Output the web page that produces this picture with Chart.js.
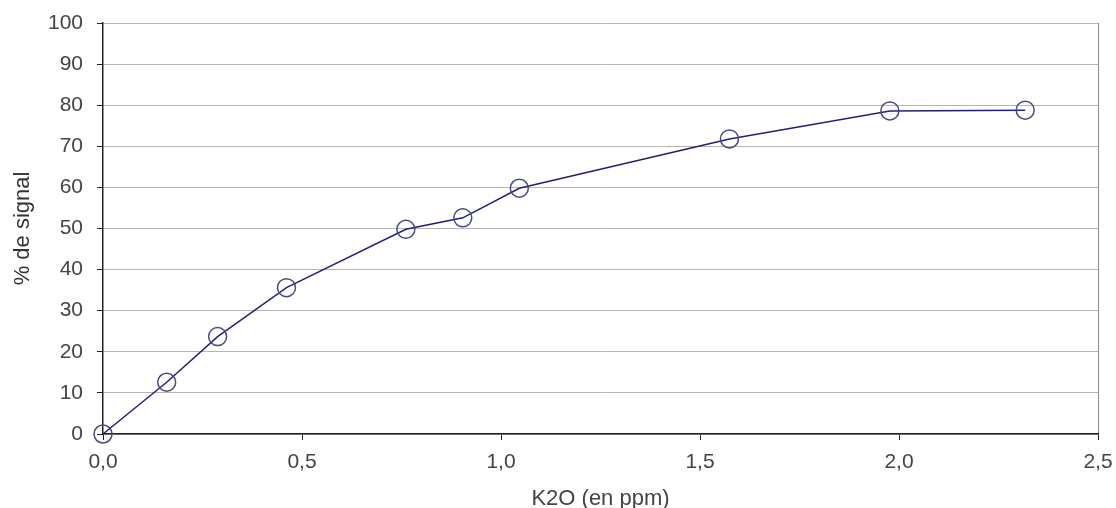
<!DOCTYPE html>
<html>
<head>
<meta charset="utf-8">
<script src="https://cdn.jsdelivr.net/npm/chart.js@4/dist/chart.umd.min.js"></script>
<style>
  html, body { margin: 0; padding: 0; background: #fff; }
  #wrap { width: 1116px; height: 508px; }
</style>
</head>
<body>
<div id="wrap"><canvas id="chart" width="1116" height="508"></canvas></div>
<script>
// ----- data -----
const k2oPpm = [0.0, 0.160, 0.288, 0.461, 0.761, 0.904, 1.046, 1.574, 1.977, 2.317];
const signalPct = [0.0, 12.6, 23.7, 35.6, 49.8, 52.6, 59.8, 71.8, 78.6, 78.8];
const xTicks = [0, 0.5, 1.0, 1.5, 2.0, 2.5];
const yTicks = [0, 10, 20, 30, 40, 50, 60, 70, 80, 90, 100];

const xTitle = 'K2O (en ppm)';
const yTitle = '% de signal';

const points = k2oPpm.map((x, i) => ({ x: x, y: signalPct[i] }));

const tickFont = { family: '"Liberation Sans", Arial, sans-serif', size: 21 };
const titleFont = { family: '"Liberation Sans", Arial, sans-serif', size: 22, lineHeight: 1 };
const textColor = '#444';

new Chart(document.getElementById('chart').getContext('2d'), {
  type: 'scatter',
  data: {
    datasets: [{
      data: points,
      showLine: true,
      borderColor: '#20207a',
      borderWidth: 1.5,
      pointRadius: 9,
      pointHoverRadius: 9,
      pointBorderColor: '#4a4a7e',
      pointBorderWidth: 1.5,
      pointBackgroundColor: 'rgba(0,0,0,0)',
      clip: false
    }]
  },
  options: {
    responsive: false,
    animation: false,
    layout: { padding: { top: 23, right: 18, left: 0, bottom: 0 } },
    plugins: { legend: { display: false }, tooltip: { enabled: false } },
    scales: {
      x: {
        type: 'linear',
        min: 0,
        max: 2.5,
        afterFit: (scale) => {
          // fixed plot box, labels may overflow into the margins
          scale.height = 74;
          scale.paddingLeft = 0;
          scale.paddingRight = 0;
        },
        afterBuildTicks: (scale) => { scale.ticks = xTicks.map(v => ({ value: v })); },
        ticks: {
          color: textColor,
          font: tickFont,
          padding: 10,
          callback: (v) => v.toFixed(1).replace('.', ',')
        },
        grid: {
          color: (ctx) => (ctx.tick && ctx.tick.value === 2.5 ? '#8c8c8c' : 'rgba(0,0,0,0)'),
          tickColor: '#222',
          tickLength: 6
        },
        border: { display: true, color: '#222', width: 1.5 },
        title: { display: true, text: xTitle, color: textColor, font: titleFont, padding: { top: 0, bottom: -2 } }
      },
      y: {
        type: 'linear',
        min: 0,
        max: 100,
        afterFit: (scale) => {
          scale.width = 103;
          scale.paddingTop = 0;
          scale.paddingBottom = 0;
        },
        afterBuildTicks: (scale) => { scale.ticks = yTicks.map(v => ({ value: v })); },
        ticks: { color: textColor, font: tickFont, padding: 14 },
        grid: { color: '#b4b4b4', tickColor: '#222', tickLength: 6 },
        border: { display: true, color: '#222', width: 1.5 },
        title: { display: true, text: yTitle, color: '#333', font: titleFont, padding: { top: 12, bottom: 0 } }
      }
    }
  }
});
</script>
</body>
</html>
